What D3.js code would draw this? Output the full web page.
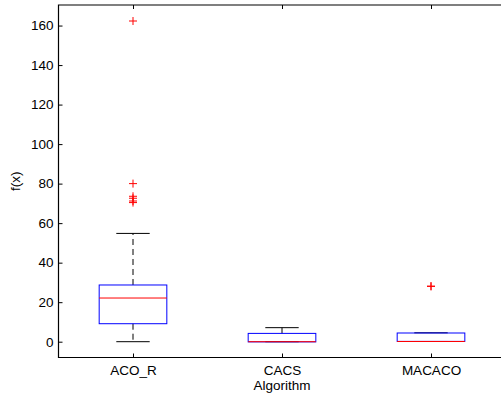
<!DOCTYPE html>
<html>
<head>
<meta charset="utf-8">
<script src="https://cdnjs.cloudflare.com/ajax/libs/d3/7.8.5/d3.min.js"></script>
<style>
  body { margin: 0; background: #fff; }
  text { font-family: "Liberation Sans", Arial, sans-serif; font-size: 13.5px; fill: #000; }
</style>
</head>
<body>
<svg id="chart" width="501" height="396"></svg>
<script>
// box stats
const algorithms = ["ACO_R", "CACS", "MACACO"];
const whiskerLow = [0, 0, 0.1];
const q1 = [9.1, -0.1, 0.15];
const median = [22.1, 0, 0.1];
const q3 = [28.7, 4.2, 4.4];
const whiskerHigh = [54.8, 7.1, 4.5];
const outliers = [[162.3, 80.0, 73.6, 72.6, 71.2, 70.4], [], [28.0, 28.1]];
const yTicks = [0, 20, 40, 60, 80, 100, 120, 140, 160];

const svg = d3.select("#chart");
const m = { left: 58.5, top: 5, bottom: 357.5 };

const x = d3.scaleLinear().domain([0.5, 3.5]).range([m.left, m.left + 447]);
const y = d3.scaleLinear().domain([-8, 170.4]).range([m.bottom, m.top]);

const halfBox = 0.227, halfCap = 0.112;

// axes (ticks point inward like matlab)
svg.append("g")
  .attr("transform", `translate(${m.left},0)`)
  .call(d3.axisLeft(y).tickValues(yTicks).tickSizeInner(-4).tickSizeOuter(0).tickPadding(5))
  .call(g => g.select(".domain").remove())
  .call(g => g.selectAll("line").attr("stroke", "#000"));

svg.append("g")
  .attr("transform", `translate(0,${m.bottom})`)
  .call(d3.axisBottom(x).tickValues([1, 2, 3]).tickFormat(d => algorithms[d - 1])
    .tickSizeInner(-4).tickSizeOuter(0).tickPadding(8))
  .call(g => g.select(".domain").remove())
  .call(g => g.selectAll("line").attr("stroke", "#000"));

svg.append("g")
  .attr("transform", `translate(0,${m.top})`)
  .call(d3.axisTop(x).tickValues([1, 2, 3]).tickFormat("").tickSizeInner(-4).tickSizeOuter(0))
  .call(g => g.select(".domain").remove())
  .call(g => g.selectAll("line").attr("stroke", "#000"));

// frame
svg.append("path")
  .attr("d", `M${x(3.5)},${m.top}H${m.left}V${m.bottom}H${x(3.5)}`)
  .attr("fill", "none").attr("stroke", "#000").attr("stroke-width", 1.2);

const boxes = svg.append("g").selectAll("g")
  .data(algorithms.map((a, i) => ({ i, pos: i + 1 })))
  .join("g");

// whiskers
boxes.append("line")
  .attr("x1", d => x(d.pos)).attr("x2", d => x(d.pos))
  .attr("y1", d => y(q3[d.i])).attr("y2", d => y(whiskerHigh[d.i]))
  .attr("stroke", "#000").attr("stroke-dasharray", "6,4");
boxes.append("line")
  .attr("x1", d => x(d.pos)).attr("x2", d => x(d.pos))
  .attr("y1", d => y(q1[d.i])).attr("y2", d => y(whiskerLow[d.i]))
  .attr("stroke", "#000").attr("stroke-dasharray", "6,4");

// caps
[whiskerHigh, whiskerLow].forEach(arr => {
  boxes.append("line")
    .attr("x1", d => x(d.pos - halfCap)).attr("x2", d => x(d.pos + halfCap))
    .attr("y1", d => y(arr[d.i])).attr("y2", d => y(arr[d.i]))
    .attr("stroke", "#000");
});

// box
boxes.append("rect")
  .attr("x", d => x(d.pos - halfBox))
  .attr("width", d => x(d.pos + halfBox) - x(d.pos - halfBox))
  .attr("y", d => y(q3[d.i]))
  .attr("height", d => y(q1[d.i]) - y(q3[d.i]))
  .attr("fill", "none").attr("stroke", "#0000ff");

// median
boxes.append("line")
  .attr("x1", d => x(d.pos - halfBox)).attr("x2", d => x(d.pos + halfBox))
  .attr("y1", d => y(median[d.i])).attr("y2", d => y(median[d.i]))
  .attr("stroke", "#ff0000");

// outliers as '+'
const pts = outliers.flatMap((arr, i) => arr.map(v => ({ pos: i + 1, v })));
svg.append("g").selectAll("path")
  .data(pts)
  .join("path")
  .attr("d", d => `M${x(d.pos) - 4},${y(d.v)}h8M${x(d.pos)},${y(d.v) - 4}v8`)
  .attr("stroke", "#ff0000").attr("fill", "none");

// labels
svg.append("text")
  .attr("x", (m.left + x(3.5)) / 2).attr("y", 390)
  .attr("text-anchor", "middle").text("Algorithm");
svg.append("text")
  .attr("transform", `translate(20,${(m.top + m.bottom) / 2}) rotate(-90)`)
  .attr("text-anchor", "middle").text("f(x)");
</script>
</body>
</html>
